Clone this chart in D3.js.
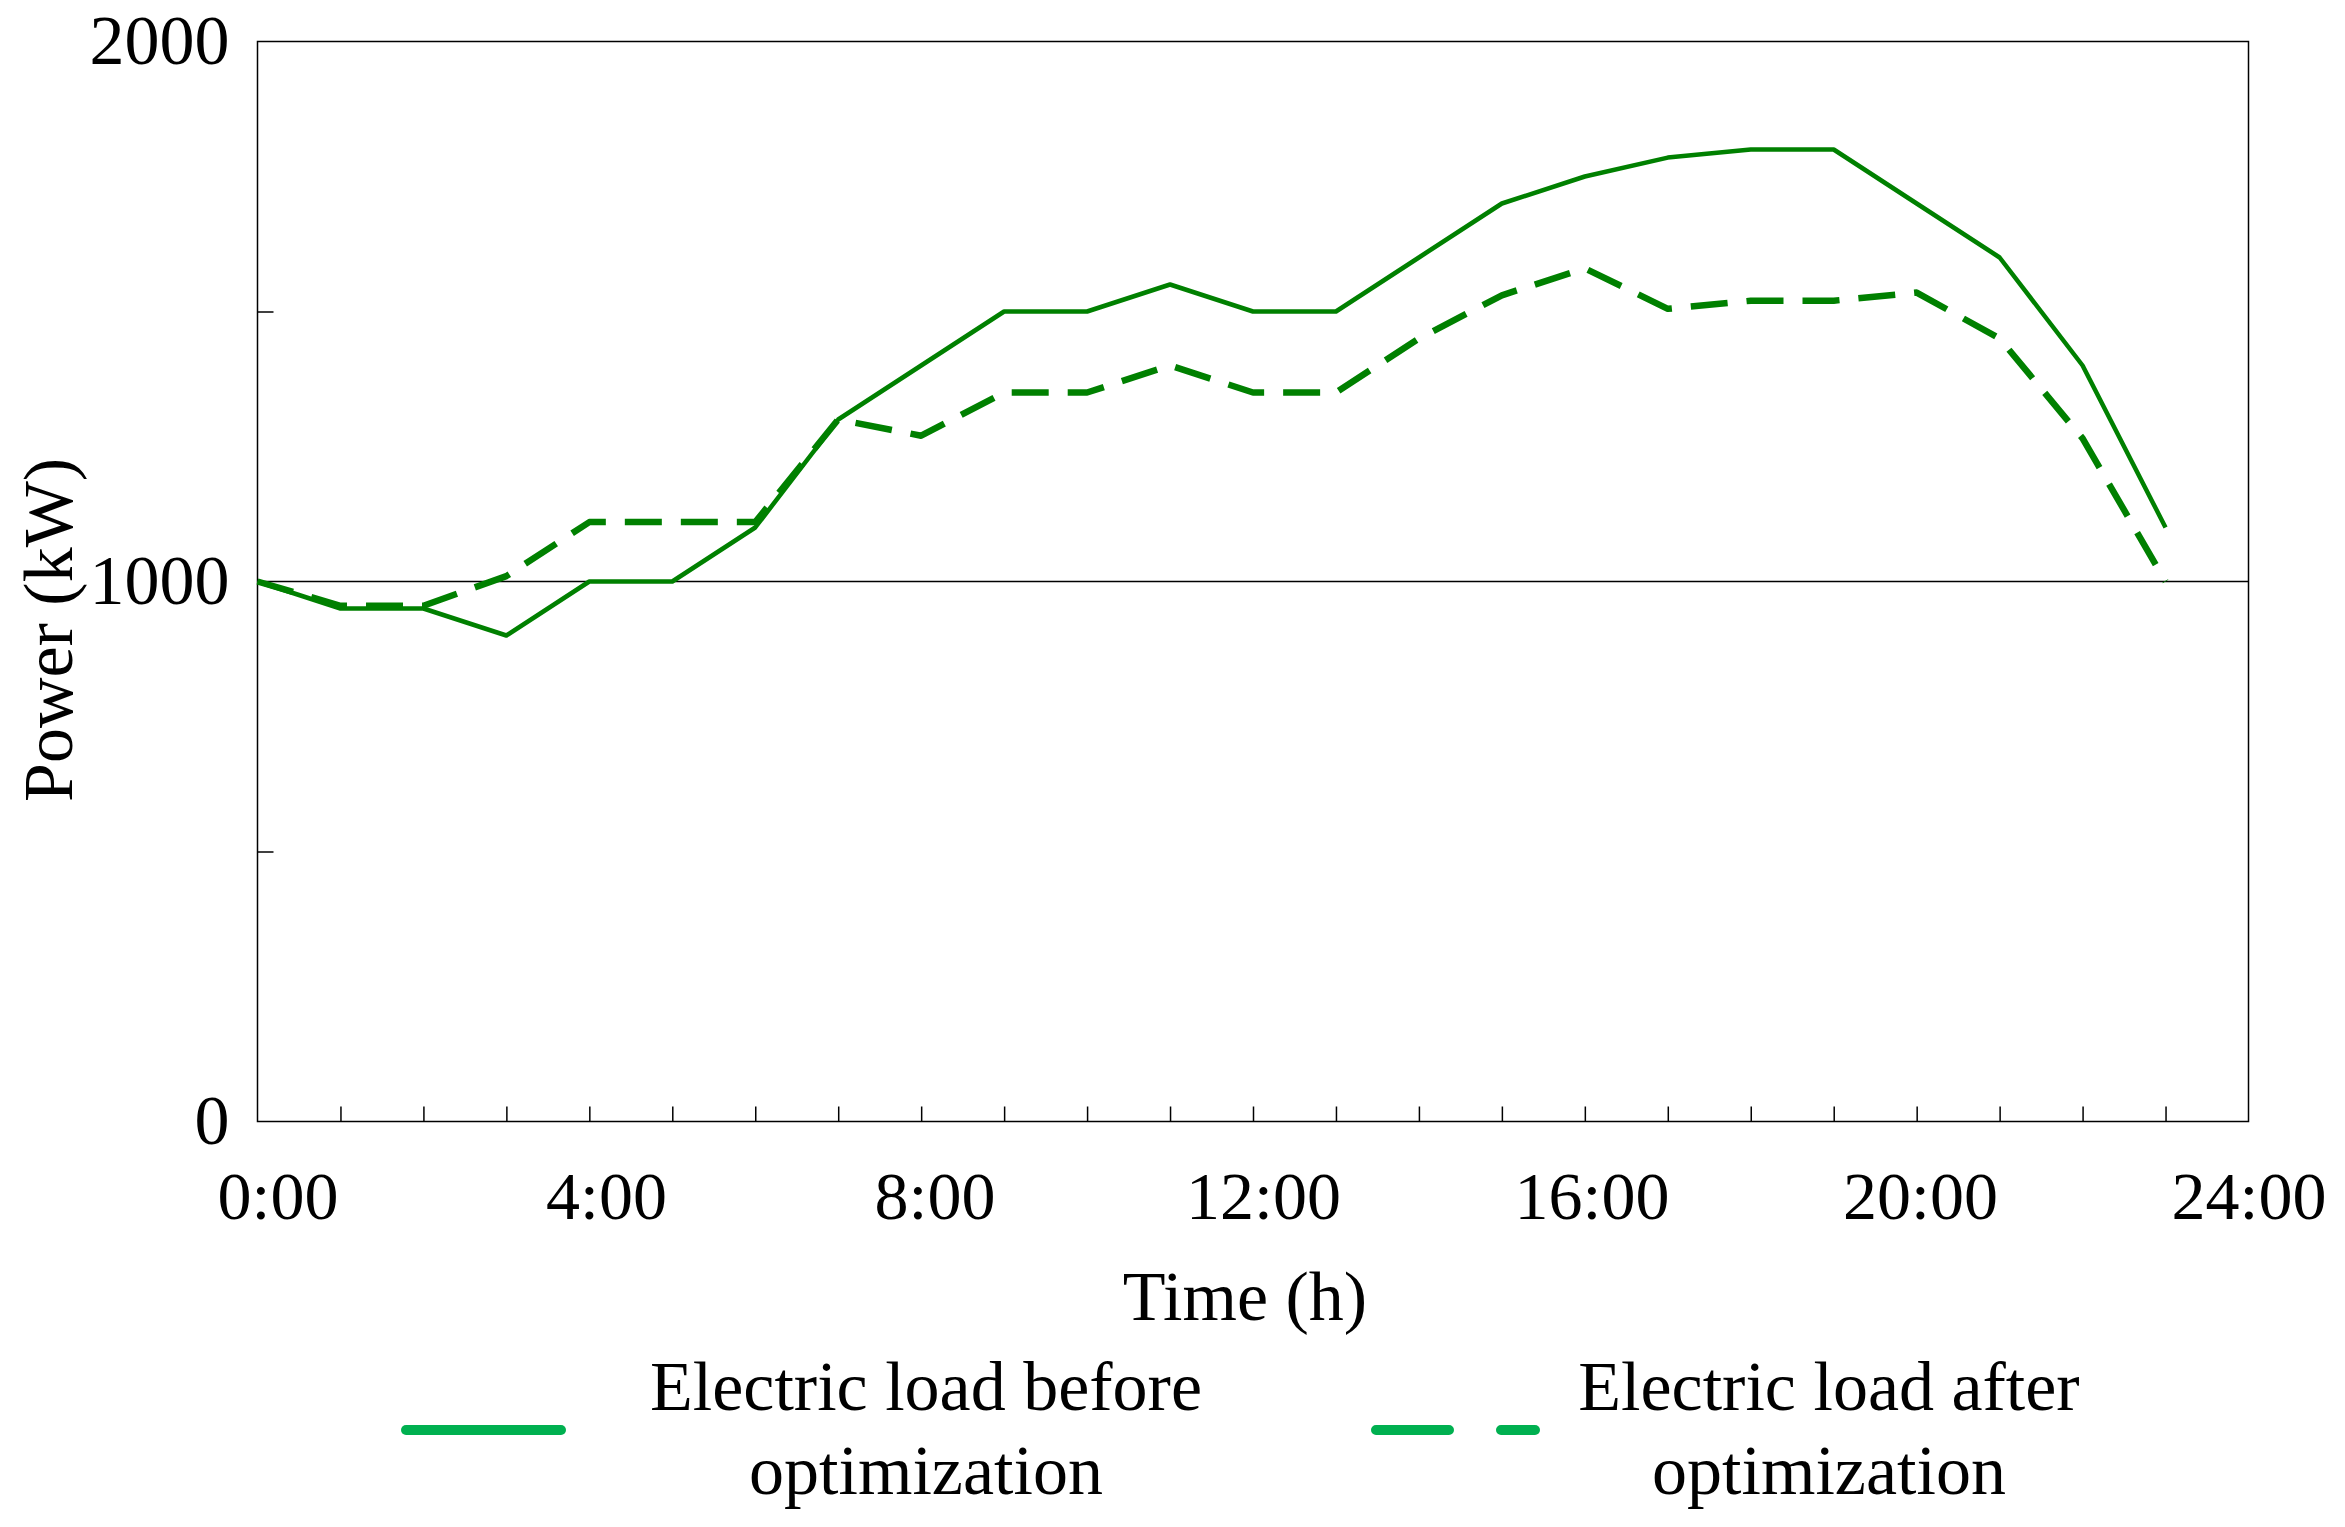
<!DOCTYPE html>
<html>
<head>
<meta charset="utf-8">
<script src="https://cdn.jsdelivr.net/npm/d3@7"></script>
<style>
  body { margin: 0; background: #fff; }
  svg text { font-family: "Liberation Serif", "Times New Roman", serif; fill: #000; }
</style>
</head>
<body>
<svg id="chart" width="2345" height="1527"></svg>
<script>
// ---------------- data ----------------
const hours = [0, 1, 2, 3, 4, 5, 6, 7, 8, 9, 10, 11, 12, 13, 14, 15, 16, 17, 18, 19, 20, 21, 22, 23];
const loadBefore = [1000, 950, 950, 900, 1000, 1000, 1100, 1300, 1400, 1500, 1500, 1550,
                    1500, 1500, 1600, 1700, 1750, 1785, 1800, 1800, 1700, 1600, 1400, 1100];
const loadAfter  = [1000, 955, 955, 1010, 1110, 1110, 1110, 1300, 1270, 1350, 1350, 1400,
                    1350, 1350, 1450, 1530, 1580, 1505, 1520, 1520, 1535, 1450, 1265, 1000];

const xLabelHours = [0, 4, 8, 12, 16, 20, 24];
const xLabels     = ['0:00', '4:00', '8:00', '12:00', '16:00', '20:00', '24:00'];
const yLabelVals  = [0, 1000, 2000];
const yMinorVals  = [500, 1500];
const seriesNames = [['Electric load before', 'optimization'], ['Electric load after', 'optimization']];

// ---------------- layout ----------------
const plotL = 257.5, plotR = 2248.5, plotT = 41.5, plotB = 1121.5;
const LINE_COLOR = '#008000';
const LEGEND_COLOR = '#00b050';

const svg = d3.select('#chart');
svg.append('rect').attr('width', 2345).attr('height', 1527).attr('fill', '#fff');

const x = d3.scaleLinear().domain([0, 24]).range([plotL, plotR]);
const y = d3.scaleLinear().domain([0, 2000]).range([plotB, plotT]);

// gridline at 1000
svg.append('line')
  .attr('x1', plotL).attr('x2', plotR)
  .attr('y1', y(1000)).attr('y2', y(1000))
  .attr('stroke', '#000').attr('stroke-width', 1.5);

// minor inside ticks, hourly on x
const xTicks = svg.append('g')
  .attr('transform', `translate(0,${plotB})`)
  .call(d3.axisBottom(x).tickValues(d3.range(1, 24)).tickSizeInner(-15).tickSizeOuter(0).tickFormat(''));
xTicks.select('.domain').remove();
xTicks.selectAll('line').attr('stroke', '#000').attr('stroke-width', 1.5);

// x labels (Excel nudges them slightly right, less so towards the end)
const xAxis = svg.append('g')
  .attr('transform', `translate(0,${plotB})`)
  .call(d3.axisBottom(x).tickValues(xLabelHours).tickSize(0).tickPadding(49)
    .tickFormat((d, i) => xLabels[i]));
xAxis.select('.domain').remove();
xAxis.selectAll('text')
  .attr('font-size', 68)
  .attr('dx', d => 20 * (1 - d / 24))
  .attr('font-family', '"Liberation Serif", serif');

// minor inside ticks on y
const yTicks = svg.append('g')
  .attr('transform', `translate(${plotL},0)`)
  .call(d3.axisLeft(y).tickValues(yMinorVals).tickSizeInner(-16).tickSizeOuter(0).tickFormat(''));
yTicks.select('.domain').remove();
yTicks.selectAll('line').attr('stroke', '#000').attr('stroke-width', 1.5);

// y labels
const yAxis = svg.append('g')
  .attr('transform', `translate(${plotL},0)`)
  .call(d3.axisLeft(y).tickValues(yLabelVals).tickSize(0).tickPadding(28).tickFormat(d3.format('d')));
yAxis.select('.domain').remove();
yAxis.selectAll('text').attr('font-size', 70)
  .attr('font-family', '"Liberation Serif", serif');

// plot border
svg.append('rect')
  .attr('x', plotL).attr('y', plotT)
  .attr('width', plotR - plotL).attr('height', plotB - plotT)
  .attr('fill', 'none').attr('stroke', '#000').attr('stroke-width', 1.5);

// series lines
const line = d3.line().x((d, i) => x(hours[i])).y(d => y(d));

svg.append('path')
  .datum(loadAfter)
  .attr('d', line)
  .attr('fill', 'none')
  .attr('stroke', LINE_COLOR)
  .attr('stroke-width', 6.5)
  .attr('stroke-dasharray', '37,19')
  .attr('stroke-linejoin', 'round');

svg.append('path')
  .datum(loadBefore)
  .attr('d', line)
  .attr('fill', 'none')
  .attr('stroke', LINE_COLOR)
  .attr('stroke-width', 4.5)
  .attr('stroke-linejoin', 'round');

// axis titles
svg.append('text')
  .attr('x', 1245).attr('y', 1320)
  .attr('text-anchor', 'middle')
  .attr('font-size', 70)
  .text('Time (h)');

svg.append('text')
  .attr('transform', 'translate(72,630) rotate(-90)')
  .attr('text-anchor', 'middle')
  .attr('font-size', 70)
  .text('Power (kW)');

// legend
const legendItems = [
  { x1: 406, x2: 561, dash: null, tx: 926 },
  { x1: 1376, x2: 1535, dash: '73,52', tx: 1829 }
];
legendItems.forEach((it, i) => {
  svg.append('line')
    .attr('x1', it.x1).attr('x2', it.x2)
    .attr('y1', 1430).attr('y2', 1430)
    .attr('stroke', LEGEND_COLOR)
    .attr('stroke-width', 10)
    .attr('stroke-linecap', 'round')
    .attr('stroke-dasharray', it.dash);
  const t = svg.append('text')
    .attr('x', it.tx).attr('y', 1410)
    .attr('text-anchor', 'middle')
    .attr('font-size', 70);
  t.append('tspan').attr('x', it.tx).text(seriesNames[i][0]);
  t.append('tspan').attr('x', it.tx).attr('dy', 84).text(seriesNames[i][1]);
});
</script>
</body>
</html>
